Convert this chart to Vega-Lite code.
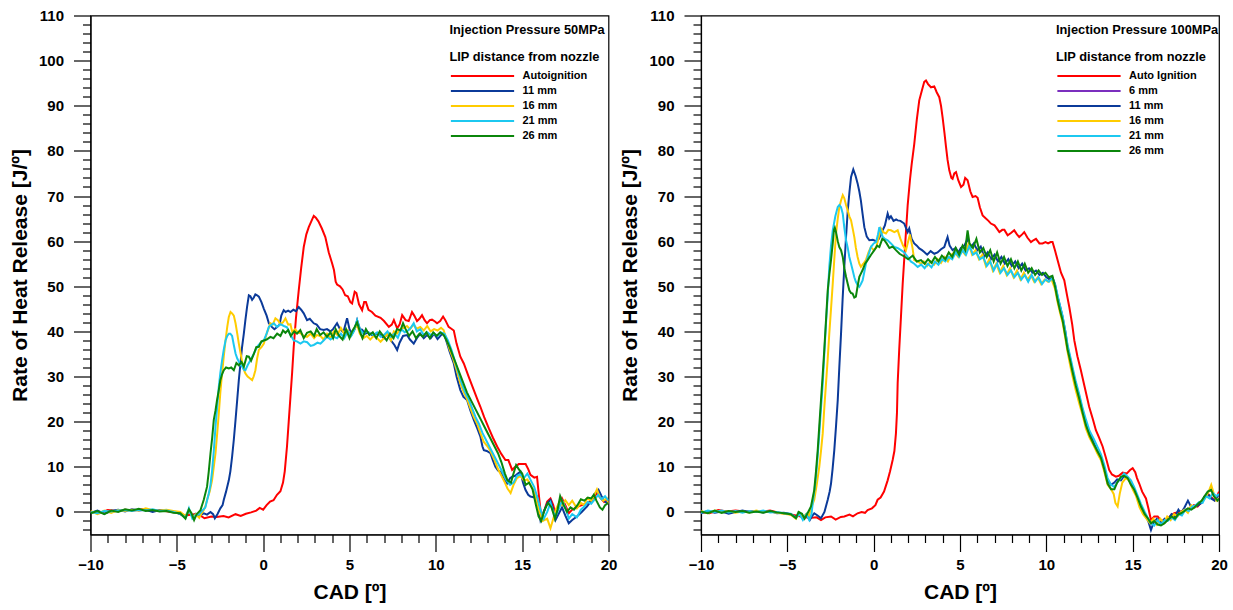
{
"$schema": "https://vega.github.io/schema/vega-lite/v6.json",
"background": "white",
"padding": {"left": 8.5, "top": 7.5, "right": 5, "bottom": 5},
"config": {
  "font": "Liberation Sans",
  "view": {"stroke": "#000", "strokeWidth": 1.2},
  "axis": {"grid": false, "domainColor": "#000", "tickColor": "#000", "labelColor": "#000", "titleColor": "#000", "labelFontWeight": "bold", "titleFontWeight": "bold", "labelFontSize": 15, "titleFontSize": 21, "tickWidth": 1.2, "domainWidth": 1.2, "labelOverlap": false, "labelFlush": false},
  "legend": {"titleColor": "#000", "labelColor": "#000", "titleFontWeight": "bold", "labelFontWeight": "bold", "titleFontSize": 12.8, "labelFontSize": 11, "titleLineHeight": 27, "titlePadding": 5.5, "symbolType": "stroke", "symbolSize": 4000, "symbolStrokeWidth": 2, "clipHeight": 14.2, "rowPadding": 0, "labelOffset": 7, "symbolOffset": 0, "titleLimit": 400, "labelLimit": 300}
},
"datasets": {
"d50": [
{"s":"Autoignition","x":-10,"y":0},{"s":"Autoignition","x":-9.5,"y":-0.3},{"s":"Autoignition","x":-9,"y":0.4},{"s":"Autoignition","x":-8.5,"y":0.2},{"s":"Autoignition","x":-8,"y":0.5},{"s":"Autoignition","x":-7.5,"y":0.3},{"s":"Autoignition","x":-7,"y":0.6},{"s":"Autoignition","x":-6.5,"y":0.2},{"s":"Autoignition","x":-6,"y":0.4},{"s":"Autoignition","x":-5.5,"y":0.1},{"s":"Autoignition","x":-5,"y":-0.2},{"s":"Autoignition","x":-4.5,"y":-0.8},{"s":"Autoignition","x":-4,"y":-0.5},{"s":"Autoignition","x":-3.6,"y":-0.9},{"s":"Autoignition","x":-3.4,"y":-1.4},{"s":"Autoignition","x":-3.0,"y":-1.0},{"s":"Autoignition","x":-2.7,"y":-1.1},{"s":"Autoignition","x":-2.3,"y":-0.9},{"s":"Autoignition","x":-2,"y":-1.2},{"s":"Autoignition","x":-1.6,"y":-0.5},{"s":"Autoignition","x":-1.3,"y":-0.9},{"s":"Autoignition","x":-1,"y":-0.4},{"s":"Autoignition","x":-0.7,"y":-0.1},{"s":"Autoignition","x":-0.4,"y":0.3},{"s":"Autoignition","x":-0.2,"y":0.9},{"s":"Autoignition","x":0,"y":0.5},{"s":"Autoignition","x":0.2,"y":1.5},{"s":"Autoignition","x":0.4,"y":2.3},{"s":"Autoignition","x":0.6,"y":2.6},{"s":"Autoignition","x":0.8,"y":3.8},{"s":"Autoignition","x":1.0,"y":4.6},{"s":"Autoignition","x":1.15,"y":6.5},{"s":"Autoignition","x":1.25,"y":9},{"s":"Autoignition","x":1.38,"y":14.5},{"s":"Autoignition","x":1.48,"y":20},{"s":"Autoignition","x":1.58,"y":25.5},{"s":"Autoignition","x":1.68,"y":31},{"s":"Autoignition","x":1.77,"y":36.6},{"s":"Autoignition","x":1.9,"y":43},{"s":"Autoignition","x":2.06,"y":49.1},{"s":"Autoignition","x":2.2,"y":54},{"s":"Autoignition","x":2.35,"y":58.7},{"s":"Autoignition","x":2.5,"y":61.5},{"s":"Autoignition","x":2.64,"y":63.1},{"s":"Autoignition","x":2.8,"y":64.5},{"s":"Autoignition","x":2.93,"y":65.6},{"s":"Autoignition","x":3.05,"y":65.2},{"s":"Autoignition","x":3.2,"y":64.4},{"s":"Autoignition","x":3.4,"y":62.8},{"s":"Autoignition","x":3.6,"y":60.9},{"s":"Autoignition","x":3.8,"y":57.5},{"s":"Autoignition","x":4.0,"y":55},{"s":"Autoignition","x":4.1,"y":53.6},{"s":"Autoignition","x":4.2,"y":51},{"s":"Autoignition","x":4.28,"y":50.4},{"s":"Autoignition","x":4.45,"y":50},{"s":"Autoignition","x":4.6,"y":49.3},{"s":"Autoignition","x":4.75,"y":48},{"s":"Autoignition","x":4.9,"y":47.8},{"s":"Autoignition","x":5.05,"y":46.5},{"s":"Autoignition","x":5.15,"y":46.2},{"s":"Autoignition","x":5.3,"y":48.8},{"s":"Autoignition","x":5.4,"y":48.5},{"s":"Autoignition","x":5.55,"y":46},{"s":"Autoignition","x":5.73,"y":44.7},{"s":"Autoignition","x":5.85,"y":46.5},{"s":"Autoignition","x":5.95,"y":46.5},{"s":"Autoignition","x":6.1,"y":44.8},{"s":"Autoignition","x":6.3,"y":44.3},{"s":"Autoignition","x":6.5,"y":43.5},{"s":"Autoignition","x":6.8,"y":43},{"s":"Autoignition","x":7.0,"y":42.3},{"s":"Autoignition","x":7.28,"y":41},{"s":"Autoignition","x":7.45,"y":41.5},{"s":"Autoignition","x":7.57,"y":42.5},{"s":"Autoignition","x":7.76,"y":40.7},{"s":"Autoignition","x":7.9,"y":41.5},{"s":"Autoignition","x":8.05,"y":43.6},{"s":"Autoignition","x":8.25,"y":42.5},{"s":"Autoignition","x":8.43,"y":42.3},{"s":"Autoignition","x":8.62,"y":44.3},{"s":"Autoignition","x":8.75,"y":43.5},{"s":"Autoignition","x":8.91,"y":42.3},{"s":"Autoignition","x":9.05,"y":42.8},{"s":"Autoignition","x":9.2,"y":43.6},{"s":"Autoignition","x":9.35,"y":42.5},{"s":"Autoignition","x":9.49,"y":41.8},{"s":"Autoignition","x":9.65,"y":42.5},{"s":"Autoignition","x":9.78,"y":42.6},{"s":"Autoignition","x":9.95,"y":42.2},{"s":"Autoignition","x":10.07,"y":41.8},{"s":"Autoignition","x":10.25,"y":42.3},{"s":"Autoignition","x":10.42,"y":43.3},{"s":"Autoignition","x":10.55,"y":42.5},{"s":"Autoignition","x":10.74,"y":41},{"s":"Autoignition","x":10.9,"y":40.6},{"s":"Autoignition","x":11.04,"y":40.2},{"s":"Autoignition","x":11.2,"y":37.3},{"s":"Autoignition","x":11.42,"y":34.4},{"s":"Autoignition","x":11.62,"y":32.9},{"s":"Autoignition","x":11.9,"y":30},{"s":"Autoignition","x":12.2,"y":27},{"s":"Autoignition","x":12.4,"y":25},{"s":"Autoignition","x":12.58,"y":23.3},{"s":"Autoignition","x":12.8,"y":21},{"s":"Autoignition","x":13.07,"y":18.5},{"s":"Autoignition","x":13.3,"y":16.5},{"s":"Autoignition","x":13.55,"y":14.5},{"s":"Autoignition","x":13.8,"y":12.8},{"s":"Autoignition","x":14.03,"y":11.5},{"s":"Autoignition","x":14.2,"y":11.5},{"s":"Autoignition","x":14.42,"y":9.3},{"s":"Autoignition","x":14.6,"y":10},{"s":"Autoignition","x":14.8,"y":10.6},{"s":"Autoignition","x":15.0,"y":10.6},{"s":"Autoignition","x":15.2,"y":10.6},{"s":"Autoignition","x":15.35,"y":9.5},{"s":"Autoignition","x":15.48,"y":8.2},{"s":"Autoignition","x":15.7,"y":7.6},{"s":"Autoignition","x":15.86,"y":7.8},{"s":"Autoignition","x":15.96,"y":4},{"s":"Autoignition","x":16.06,"y":0.4},{"s":"Autoignition","x":16.15,"y":-1},{"s":"Autoignition","x":16.3,"y":0.5},{"s":"Autoignition","x":16.45,"y":2.3},{"s":"Autoignition","x":16.64,"y":3},{"s":"Autoignition","x":16.8,"y":1.5},{"s":"Autoignition","x":16.93,"y":-0.5},{"s":"Autoignition","x":17.1,"y":1},{"s":"Autoignition","x":17.31,"y":3},{"s":"Autoignition","x":17.5,"y":1.5},{"s":"Autoignition","x":17.7,"y":-0.3},{"s":"Autoignition","x":17.9,"y":0.5},{"s":"Autoignition","x":18.17,"y":1.1},{"s":"Autoignition","x":18.45,"y":1.5},{"s":"Autoignition","x":18.75,"y":1.9},{"s":"Autoignition","x":19.0,"y":2.5},{"s":"Autoignition","x":19.2,"y":3.5},{"s":"Autoignition","x":19.33,"y":4.1},{"s":"Autoignition","x":19.55,"y":3},{"s":"Autoignition","x":19.75,"y":2.2},{"s":"Autoignition","x":19.9,"y":2.5},{"s":"Autoignition","x":20,"y":2},
{"s":"11 mm","x":-10,"y":-0.2},{"s":"11 mm","x":-9.6,"y":0.3},{"s":"11 mm","x":-9.2,"y":-0.4},{"s":"11 mm","x":-8.8,"y":0.2},{"s":"11 mm","x":-8.4,"y":0.5},{"s":"11 mm","x":-8,"y":0.1},{"s":"11 mm","x":-7.6,"y":0.6},{"s":"11 mm","x":-7.2,"y":0.3},{"s":"11 mm","x":-6.8,"y":0.5},{"s":"11 mm","x":-6.4,"y":0},{"s":"11 mm","x":-6,"y":0.4},{"s":"11 mm","x":-5.6,"y":0.2},{"s":"11 mm","x":-5.2,"y":0.1},{"s":"11 mm","x":-4.8,"y":-0.5},{"s":"11 mm","x":-4.5,"y":-1.2},{"s":"11 mm","x":-4.3,"y":0.3},{"s":"11 mm","x":-4.1,"y":-1.0},{"s":"11 mm","x":-3.9,"y":-0.4},{"s":"11 mm","x":-3.7,"y":-0.8},{"s":"11 mm","x":-3.44,"y":-0.3},{"s":"11 mm","x":-3.25,"y":-0.6},{"s":"11 mm","x":-3.05,"y":0},{"s":"11 mm","x":-2.9,"y":-0.5},{"s":"11 mm","x":-2.8,"y":-1.4},{"s":"11 mm","x":-2.65,"y":-0.5},{"s":"11 mm","x":-2.48,"y":0.8},{"s":"11 mm","x":-2.35,"y":1.5},{"s":"11 mm","x":-2.28,"y":2.7},{"s":"11 mm","x":-2.15,"y":4.5},{"s":"11 mm","x":-1.99,"y":7},{"s":"11 mm","x":-1.9,"y":9},{"s":"11 mm","x":-1.8,"y":12.2},{"s":"11 mm","x":-1.7,"y":16},{"s":"11 mm","x":-1.6,"y":20.4},{"s":"11 mm","x":-1.5,"y":25},{"s":"11 mm","x":-1.41,"y":29.2},{"s":"11 mm","x":-1.3,"y":33.5},{"s":"11 mm","x":-1.22,"y":36.6},{"s":"11 mm","x":-1.12,"y":39.5},{"s":"11 mm","x":-1.03,"y":42.5},{"s":"11 mm","x":-0.93,"y":45.5},{"s":"11 mm","x":-0.83,"y":48},{"s":"11 mm","x":-0.74,"y":47.8},{"s":"11 mm","x":-0.64,"y":47},{"s":"11 mm","x":-0.54,"y":47.5},{"s":"11 mm","x":-0.45,"y":48.2},{"s":"11 mm","x":-0.35,"y":48},{"s":"11 mm","x":-0.25,"y":47.7},{"s":"11 mm","x":-0.1,"y":46.5},{"s":"11 mm","x":0.04,"y":45},{"s":"11 mm","x":0.2,"y":43.5},{"s":"11 mm","x":0.33,"y":41.8},{"s":"11 mm","x":0.5,"y":41},{"s":"11 mm","x":0.65,"y":40.5},{"s":"11 mm","x":0.81,"y":41},{"s":"11 mm","x":0.95,"y":41.5},{"s":"11 mm","x":1.05,"y":43.5},{"s":"11 mm","x":1.19,"y":44.7},{"s":"11 mm","x":1.3,"y":44.3},{"s":"11 mm","x":1.45,"y":44.6},{"s":"11 mm","x":1.58,"y":44.3},{"s":"11 mm","x":1.75,"y":44.8},{"s":"11 mm","x":1.9,"y":44.5},{"s":"11 mm","x":2.06,"y":45.4},{"s":"11 mm","x":2.2,"y":44.8},{"s":"11 mm","x":2.35,"y":44},{"s":"11 mm","x":2.54,"y":42.5},{"s":"11 mm","x":2.7,"y":42.8},{"s":"11 mm","x":2.93,"y":41.8},{"s":"11 mm","x":3.1,"y":41.5},{"s":"11 mm","x":3.3,"y":40.5},{"s":"11 mm","x":3.51,"y":40.3},{"s":"11 mm","x":3.7,"y":40.5},{"s":"11 mm","x":3.89,"y":40},{"s":"11 mm","x":4.05,"y":40.5},{"s":"11 mm","x":4.28,"y":41.8},{"s":"11 mm","x":4.45,"y":40.5},{"s":"11 mm","x":4.6,"y":40},{"s":"11 mm","x":4.67,"y":40.2},{"s":"11 mm","x":4.86,"y":42.9},{"s":"11 mm","x":5.0,"y":40.5},{"s":"11 mm","x":5.15,"y":39.5},{"s":"11 mm","x":5.3,"y":40.5},{"s":"11 mm","x":5.44,"y":42.5},{"s":"11 mm","x":5.6,"y":40.5},{"s":"11 mm","x":5.73,"y":40.4},{"s":"11 mm","x":5.9,"y":39.5},{"s":"11 mm","x":6.1,"y":39.8},{"s":"11 mm","x":6.3,"y":39.2},{"s":"11 mm","x":6.55,"y":39.5},{"s":"11 mm","x":6.8,"y":39.2},{"s":"11 mm","x":7.0,"y":38.5},{"s":"11 mm","x":7.2,"y":39.5},{"s":"11 mm","x":7.4,"y":38},{"s":"11 mm","x":7.6,"y":37},{"s":"11 mm","x":7.76,"y":35.9},{"s":"11 mm","x":7.9,"y":37.5},{"s":"11 mm","x":8.1,"y":39},{"s":"11 mm","x":8.33,"y":39.2},{"s":"11 mm","x":8.5,"y":38.2},{"s":"11 mm","x":8.72,"y":37.3},{"s":"11 mm","x":8.9,"y":38.5},{"s":"11 mm","x":9.1,"y":39.5},{"s":"11 mm","x":9.3,"y":38.5},{"s":"11 mm","x":9.49,"y":39.2},{"s":"11 mm","x":9.7,"y":38.5},{"s":"11 mm","x":9.9,"y":39.5},{"s":"11 mm","x":10.1,"y":38.3},{"s":"11 mm","x":10.3,"y":39.2},{"s":"11 mm","x":10.46,"y":39.5},{"s":"11 mm","x":10.6,"y":38},{"s":"11 mm","x":10.8,"y":35.5},{"s":"11 mm","x":11.04,"y":32.9},{"s":"11 mm","x":11.2,"y":30},{"s":"11 mm","x":11.42,"y":27},{"s":"11 mm","x":11.6,"y":25.5},{"s":"11 mm","x":11.81,"y":24.8},{"s":"11 mm","x":12.0,"y":22.5},{"s":"11 mm","x":12.2,"y":20.4},{"s":"11 mm","x":12.4,"y":18.5},{"s":"11 mm","x":12.58,"y":16.7},{"s":"11 mm","x":12.7,"y":14.5},{"s":"11 mm","x":12.78,"y":13.7},{"s":"11 mm","x":12.95,"y":13.5},{"s":"11 mm","x":13.16,"y":13},{"s":"11 mm","x":13.3,"y":11.5},{"s":"11 mm","x":13.45,"y":10},{"s":"11 mm","x":13.6,"y":9.2},{"s":"11 mm","x":13.74,"y":8.9},{"s":"11 mm","x":13.95,"y":7.2},{"s":"11 mm","x":14.13,"y":6.3},{"s":"11 mm","x":14.3,"y":7.5},{"s":"11 mm","x":14.42,"y":7.8},{"s":"11 mm","x":14.6,"y":8},{"s":"11 mm","x":14.75,"y":8.5},{"s":"11 mm","x":14.9,"y":8.9},{"s":"11 mm","x":15.05,"y":6.5},{"s":"11 mm","x":15.19,"y":4.9},{"s":"11 mm","x":15.35,"y":3.8},{"s":"11 mm","x":15.48,"y":3.4},{"s":"11 mm","x":15.7,"y":3.2},{"s":"11 mm","x":15.86,"y":3.4},{"s":"11 mm","x":15.96,"y":1},{"s":"11 mm","x":16.06,"y":-1.8},{"s":"11 mm","x":16.25,"y":0},{"s":"11 mm","x":16.45,"y":1.9},{"s":"11 mm","x":16.64,"y":2.6},{"s":"11 mm","x":16.8,"y":0.5},{"s":"11 mm","x":16.93,"y":-1.8},{"s":"11 mm","x":17.1,"y":-0.5},{"s":"11 mm","x":17.31,"y":1},{"s":"11 mm","x":17.5,"y":-0.8},{"s":"11 mm","x":17.7,"y":-2.5},{"s":"11 mm","x":17.9,"y":-1.8},{"s":"11 mm","x":18.17,"y":-1},{"s":"11 mm","x":18.45,"y":0},{"s":"11 mm","x":18.75,"y":1.2},{"s":"11 mm","x":19.0,"y":2.5},{"s":"11 mm","x":19.2,"y":4},{"s":"11 mm","x":19.42,"y":4.9},{"s":"11 mm","x":19.6,"y":3.5},{"s":"11 mm","x":19.75,"y":2.5},{"s":"11 mm","x":19.9,"y":2},{"s":"11 mm","x":20,"y":2.3},
{"s":"16 mm","x":-10,"y":0.2},{"s":"16 mm","x":-9.6,"y":-0.5},{"s":"16 mm","x":-9.2,"y":0.3},{"s":"16 mm","x":-8.8,"y":-0.2},{"s":"16 mm","x":-8.4,"y":0.4},{"s":"16 mm","x":-8,"y":0.2},{"s":"16 mm","x":-7.6,"y":0.5},{"s":"16 mm","x":-7.2,"y":0.3},{"s":"16 mm","x":-6.8,"y":0.8},{"s":"16 mm","x":-6.4,"y":0.4},{"s":"16 mm","x":-6,"y":0.3},{"s":"16 mm","x":-5.6,"y":0.5},{"s":"16 mm","x":-5.2,"y":0.2},{"s":"16 mm","x":-4.8,"y":0},{"s":"16 mm","x":-4.5,"y":-0.9},{"s":"16 mm","x":-4.3,"y":0.5},{"s":"16 mm","x":-4.1,"y":-1.2},{"s":"16 mm","x":-3.9,"y":-0.5},{"s":"16 mm","x":-3.7,"y":-1.3},{"s":"16 mm","x":-3.55,"y":-0.2},{"s":"16 mm","x":-3.44,"y":0.4},{"s":"16 mm","x":-3.35,"y":1.2},{"s":"16 mm","x":-3.25,"y":2.7},{"s":"16 mm","x":-3.1,"y":4.5},{"s":"16 mm","x":-2.96,"y":7},{"s":"16 mm","x":-2.86,"y":10},{"s":"16 mm","x":-2.76,"y":13},{"s":"16 mm","x":-2.66,"y":17.5},{"s":"16 mm","x":-2.57,"y":21.8},{"s":"16 mm","x":-2.48,"y":26.5},{"s":"16 mm","x":-2.38,"y":30.7},{"s":"16 mm","x":-2.28,"y":34.5},{"s":"16 mm","x":-2.18,"y":38},{"s":"16 mm","x":-2.08,"y":41},{"s":"16 mm","x":-1.99,"y":43.2},{"s":"16 mm","x":-1.89,"y":44.3},{"s":"16 mm","x":-1.8,"y":44},{"s":"16 mm","x":-1.7,"y":43.5},{"s":"16 mm","x":-1.6,"y":41.8},{"s":"16 mm","x":-1.5,"y":39.5},{"s":"16 mm","x":-1.41,"y":37.3},{"s":"16 mm","x":-1.3,"y":35},{"s":"16 mm","x":-1.22,"y":33.3},{"s":"16 mm","x":-1.12,"y":31.5},{"s":"16 mm","x":-1.03,"y":30.7},{"s":"16 mm","x":-0.9,"y":30},{"s":"16 mm","x":-0.74,"y":29.5},{"s":"16 mm","x":-0.64,"y":29.2},{"s":"16 mm","x":-0.55,"y":30},{"s":"16 mm","x":-0.45,"y":31.4},{"s":"16 mm","x":-0.35,"y":34},{"s":"16 mm","x":-0.25,"y":35.9},{"s":"16 mm","x":-0.1,"y":36.5},{"s":"16 mm","x":0.04,"y":37.3},{"s":"16 mm","x":0.2,"y":39.5},{"s":"16 mm","x":0.42,"y":41.8},{"s":"16 mm","x":0.55,"y":41.5},{"s":"16 mm","x":0.71,"y":42.9},{"s":"16 mm","x":0.85,"y":42.5},{"s":"16 mm","x":1.0,"y":41.6},{"s":"16 mm","x":1.15,"y":42},{"s":"16 mm","x":1.29,"y":42.9},{"s":"16 mm","x":1.45,"y":41.5},{"s":"16 mm","x":1.58,"y":41.6},{"s":"16 mm","x":1.68,"y":39.9},{"s":"16 mm","x":1.85,"y":40.5},{"s":"16 mm","x":2.0,"y":39.8},{"s":"16 mm","x":2.2,"y":39.5},{"s":"16 mm","x":2.35,"y":39},{"s":"16 mm","x":2.54,"y":38.8},{"s":"16 mm","x":2.75,"y":39.5},{"s":"16 mm","x":2.95,"y":38.5},{"s":"16 mm","x":3.1,"y":39.2},{"s":"16 mm","x":3.31,"y":39},{"s":"16 mm","x":3.5,"y":38.2},{"s":"16 mm","x":3.7,"y":39.5},{"s":"16 mm","x":3.9,"y":38.5},{"s":"16 mm","x":4.09,"y":40},{"s":"16 mm","x":4.3,"y":39.2},{"s":"16 mm","x":4.5,"y":40.8},{"s":"16 mm","x":4.7,"y":39.5},{"s":"16 mm","x":4.9,"y":40.2},{"s":"16 mm","x":5.05,"y":39},{"s":"16 mm","x":5.25,"y":40.2},{"s":"16 mm","x":5.44,"y":41.5},{"s":"16 mm","x":5.6,"y":39.5},{"s":"16 mm","x":5.8,"y":38.5},{"s":"16 mm","x":6.0,"y":39},{"s":"16 mm","x":6.2,"y":38.2},{"s":"16 mm","x":6.4,"y":39},{"s":"16 mm","x":6.6,"y":38.5},{"s":"16 mm","x":6.8,"y":37.7},{"s":"16 mm","x":7.0,"y":38.5},{"s":"16 mm","x":7.2,"y":39.5},{"s":"16 mm","x":7.4,"y":38},{"s":"16 mm","x":7.57,"y":40},{"s":"16 mm","x":7.75,"y":39.5},{"s":"16 mm","x":7.95,"y":40.5},{"s":"16 mm","x":8.15,"y":40.8},{"s":"16 mm","x":8.33,"y":41.2},{"s":"16 mm","x":8.5,"y":40.5},{"s":"16 mm","x":8.7,"y":41.5},{"s":"16 mm","x":8.9,"y":40.6},{"s":"16 mm","x":9.1,"y":41},{"s":"16 mm","x":9.3,"y":40.2},{"s":"16 mm","x":9.5,"y":41.2},{"s":"16 mm","x":9.7,"y":40},{"s":"16 mm","x":9.9,"y":40.5},{"s":"16 mm","x":10.1,"y":40.2},{"s":"16 mm","x":10.3,"y":40.8},{"s":"16 mm","x":10.45,"y":40.3},{"s":"16 mm","x":10.6,"y":38.5},{"s":"16 mm","x":10.8,"y":36},{"s":"16 mm","x":11.0,"y":34},{"s":"16 mm","x":11.2,"y":31.5},{"s":"16 mm","x":11.42,"y":28.5},{"s":"16 mm","x":11.62,"y":26.5},{"s":"16 mm","x":11.81,"y":25},{"s":"16 mm","x":12.0,"y":23},{"s":"16 mm","x":12.2,"y":21},{"s":"16 mm","x":12.4,"y":19.5},{"s":"16 mm","x":12.58,"y":17.5},{"s":"16 mm","x":12.78,"y":15.5},{"s":"16 mm","x":13.0,"y":14.5},{"s":"16 mm","x":13.16,"y":13.5},{"s":"16 mm","x":13.4,"y":11.5},{"s":"16 mm","x":13.6,"y":9.5},{"s":"16 mm","x":13.8,"y":8},{"s":"16 mm","x":14.0,"y":6.5},{"s":"16 mm","x":14.15,"y":5.2},{"s":"16 mm","x":14.33,"y":4.2},{"s":"16 mm","x":14.5,"y":6},{"s":"16 mm","x":14.7,"y":7.5},{"s":"16 mm","x":14.9,"y":8},{"s":"16 mm","x":15.1,"y":7},{"s":"16 mm","x":15.3,"y":7.2},{"s":"16 mm","x":15.48,"y":6},{"s":"16 mm","x":15.7,"y":4.5},{"s":"16 mm","x":15.86,"y":2},{"s":"16 mm","x":16.0,"y":0},{"s":"16 mm","x":16.2,"y":-2},{"s":"16 mm","x":16.45,"y":-1.5},{"s":"16 mm","x":16.64,"y":-3.6},{"s":"16 mm","x":16.8,"y":-1.5},{"s":"16 mm","x":16.95,"y":0.5},{"s":"16 mm","x":17.15,"y":2.2},{"s":"16 mm","x":17.31,"y":1.5},{"s":"16 mm","x":17.5,"y":2.6},{"s":"16 mm","x":17.7,"y":1.5},{"s":"16 mm","x":17.9,"y":2.5},{"s":"16 mm","x":18.17,"y":0.8},{"s":"16 mm","x":18.4,"y":2},{"s":"16 mm","x":18.6,"y":1.5},{"s":"16 mm","x":18.75,"y":3},{"s":"16 mm","x":19.0,"y":2.5},{"s":"16 mm","x":19.15,"y":3.5},{"s":"16 mm","x":19.33,"y":5},{"s":"16 mm","x":19.5,"y":3.2},{"s":"16 mm","x":19.7,"y":2.5},{"s":"16 mm","x":19.9,"y":3},{"s":"16 mm","x":20,"y":1.8},
{"s":"21 mm","x":-10,"y":0},{"s":"21 mm","x":-9.6,"y":-0.3},{"s":"21 mm","x":-9.2,"y":0.2},{"s":"21 mm","x":-8.8,"y":0.1},{"s":"21 mm","x":-8.4,"y":0.3},{"s":"21 mm","x":-8,"y":0.4},{"s":"21 mm","x":-7.6,"y":0.2},{"s":"21 mm","x":-7.2,"y":0.5},{"s":"21 mm","x":-6.8,"y":0.3},{"s":"21 mm","x":-6.4,"y":0.6},{"s":"21 mm","x":-6,"y":0.2},{"s":"21 mm","x":-5.6,"y":0.3},{"s":"21 mm","x":-5.2,"y":0},{"s":"21 mm","x":-4.8,"y":-0.4},{"s":"21 mm","x":-4.5,"y":-1.3},{"s":"21 mm","x":-4.3,"y":0.8},{"s":"21 mm","x":-4.1,"y":-1.5},{"s":"21 mm","x":-3.9,"y":-0.7},{"s":"21 mm","x":-3.7,"y":-0.5},{"s":"21 mm","x":-3.55,"y":0.2},{"s":"21 mm","x":-3.35,"y":1},{"s":"21 mm","x":-3.15,"y":4.1},{"s":"21 mm","x":-3.05,"y":6},{"s":"21 mm","x":-2.96,"y":9},{"s":"21 mm","x":-2.86,"y":13.5},{"s":"21 mm","x":-2.76,"y":18.9},{"s":"21 mm","x":-2.66,"y":23.5},{"s":"21 mm","x":-2.57,"y":27.7},{"s":"21 mm","x":-2.48,"y":30.8},{"s":"21 mm","x":-2.38,"y":33.6},{"s":"21 mm","x":-2.28,"y":36},{"s":"21 mm","x":-2.18,"y":38},{"s":"21 mm","x":-2.08,"y":39},{"s":"21 mm","x":-1.99,"y":39.5},{"s":"21 mm","x":-1.9,"y":39.5},{"s":"21 mm","x":-1.8,"y":39},{"s":"21 mm","x":-1.7,"y":37},{"s":"21 mm","x":-1.6,"y":35.1},{"s":"21 mm","x":-1.5,"y":34},{"s":"21 mm","x":-1.41,"y":33.3},{"s":"21 mm","x":-1.3,"y":32.5},{"s":"21 mm","x":-1.22,"y":32.2},{"s":"21 mm","x":-1.12,"y":31.5},{"s":"21 mm","x":-1.03,"y":31.4},{"s":"21 mm","x":-0.9,"y":32.5},{"s":"21 mm","x":-0.74,"y":33.6},{"s":"21 mm","x":-0.55,"y":35},{"s":"21 mm","x":-0.35,"y":36.6},{"s":"21 mm","x":-0.15,"y":37.5},{"s":"21 mm","x":0.04,"y":38},{"s":"21 mm","x":0.2,"y":39.5},{"s":"21 mm","x":0.33,"y":41},{"s":"21 mm","x":0.5,"y":41.5},{"s":"21 mm","x":0.62,"y":41.8},{"s":"21 mm","x":0.8,"y":41},{"s":"21 mm","x":1.0,"y":41.6},{"s":"21 mm","x":1.2,"y":41.2},{"s":"21 mm","x":1.38,"y":40.9},{"s":"21 mm","x":1.55,"y":39.5},{"s":"21 mm","x":1.77,"y":38},{"s":"21 mm","x":1.95,"y":37.8},{"s":"21 mm","x":2.16,"y":37.3},{"s":"21 mm","x":2.35,"y":37.8},{"s":"21 mm","x":2.55,"y":37.6},{"s":"21 mm","x":2.75,"y":36.8},{"s":"21 mm","x":2.93,"y":37},{"s":"21 mm","x":3.15,"y":37.5},{"s":"21 mm","x":3.32,"y":37.3},{"s":"21 mm","x":3.5,"y":38},{"s":"21 mm","x":3.7,"y":38.8},{"s":"21 mm","x":3.9,"y":38.2},{"s":"21 mm","x":4.09,"y":38.8},{"s":"21 mm","x":4.28,"y":38.5},{"s":"21 mm","x":4.5,"y":39.5},{"s":"21 mm","x":4.7,"y":38.5},{"s":"21 mm","x":4.9,"y":40},{"s":"21 mm","x":5.1,"y":39},{"s":"21 mm","x":5.25,"y":40},{"s":"21 mm","x":5.44,"y":42.5},{"s":"21 mm","x":5.6,"y":40.5},{"s":"21 mm","x":5.8,"y":39.5},{"s":"21 mm","x":6.0,"y":40},{"s":"21 mm","x":6.2,"y":39.5},{"s":"21 mm","x":6.4,"y":39.2},{"s":"21 mm","x":6.6,"y":39.8},{"s":"21 mm","x":6.8,"y":38.8},{"s":"21 mm","x":7.0,"y":39.2},{"s":"21 mm","x":7.2,"y":40},{"s":"21 mm","x":7.4,"y":38.8},{"s":"21 mm","x":7.6,"y":39.5},{"s":"21 mm","x":7.8,"y":38.6},{"s":"21 mm","x":8.0,"y":40.5},{"s":"21 mm","x":8.2,"y":39.8},{"s":"21 mm","x":8.4,"y":40.2},{"s":"21 mm","x":8.55,"y":40.8},{"s":"21 mm","x":8.72,"y":41.8},{"s":"21 mm","x":8.9,"y":40},{"s":"21 mm","x":9.1,"y":40.5},{"s":"21 mm","x":9.3,"y":39.2},{"s":"21 mm","x":9.5,"y":39.8},{"s":"21 mm","x":9.7,"y":39.2},{"s":"21 mm","x":9.9,"y":39.5},{"s":"21 mm","x":10.1,"y":39},{"s":"21 mm","x":10.3,"y":39.8},{"s":"21 mm","x":10.5,"y":39.5},{"s":"21 mm","x":10.7,"y":38},{"s":"21 mm","x":10.9,"y":36},{"s":"21 mm","x":11.1,"y":33.5},{"s":"21 mm","x":11.3,"y":31},{"s":"21 mm","x":11.5,"y":28.5},{"s":"21 mm","x":11.7,"y":26.5},{"s":"21 mm","x":11.9,"y":25},{"s":"21 mm","x":12.1,"y":23},{"s":"21 mm","x":12.3,"y":21},{"s":"21 mm","x":12.5,"y":19.5},{"s":"21 mm","x":12.7,"y":17.5},{"s":"21 mm","x":12.9,"y":16},{"s":"21 mm","x":13.1,"y":14.5},{"s":"21 mm","x":13.3,"y":13},{"s":"21 mm","x":13.5,"y":11.5},{"s":"21 mm","x":13.7,"y":10},{"s":"21 mm","x":13.9,"y":8.5},{"s":"21 mm","x":14.1,"y":7},{"s":"21 mm","x":14.3,"y":6},{"s":"21 mm","x":14.5,"y":6.5},{"s":"21 mm","x":14.7,"y":8},{"s":"21 mm","x":14.9,"y":8.3},{"s":"21 mm","x":15.1,"y":7.5},{"s":"21 mm","x":15.3,"y":8.5},{"s":"21 mm","x":15.5,"y":7},{"s":"21 mm","x":15.7,"y":5.5},{"s":"21 mm","x":15.9,"y":3},{"s":"21 mm","x":16.06,"y":0.5},{"s":"21 mm","x":16.25,"y":-1.5},{"s":"21 mm","x":16.45,"y":0},{"s":"21 mm","x":16.64,"y":2},{"s":"21 mm","x":16.8,"y":0},{"s":"21 mm","x":16.93,"y":-1},{"s":"21 mm","x":17.1,"y":0.5},{"s":"21 mm","x":17.31,"y":2.5},{"s":"21 mm","x":17.5,"y":1},{"s":"21 mm","x":17.7,"y":-1.5},{"s":"21 mm","x":17.9,"y":-0.5},{"s":"21 mm","x":18.17,"y":-1.2},{"s":"21 mm","x":18.4,"y":0.5},{"s":"21 mm","x":18.6,"y":1.2},{"s":"21 mm","x":18.8,"y":2.2},{"s":"21 mm","x":19.0,"y":1.8},{"s":"21 mm","x":19.2,"y":2.8},{"s":"21 mm","x":19.4,"y":3.8},{"s":"21 mm","x":19.6,"y":2.8},{"s":"21 mm","x":19.8,"y":3.5},{"s":"21 mm","x":20,"y":2.5},
{"s":"26 mm","x":-10,"y":-0.3},{"s":"26 mm","x":-9.6,"y":0.2},{"s":"26 mm","x":-9.2,"y":-0.5},{"s":"26 mm","x":-8.8,"y":0.3},{"s":"26 mm","x":-8.4,"y":0},{"s":"26 mm","x":-8,"y":0.6},{"s":"26 mm","x":-7.6,"y":0.3},{"s":"26 mm","x":-7.2,"y":0.7},{"s":"26 mm","x":-6.8,"y":0.2},{"s":"26 mm","x":-6.4,"y":0.4},{"s":"26 mm","x":-6,"y":0.1},{"s":"26 mm","x":-5.6,"y":0.2},{"s":"26 mm","x":-5.2,"y":-0.2},{"s":"26 mm","x":-4.8,"y":-0.3},{"s":"26 mm","x":-4.5,"y":-1.5},{"s":"26 mm","x":-4.3,"y":0.6},{"s":"26 mm","x":-4.15,"y":-0.3},{"s":"26 mm","x":-4.0,"y":-1.8},{"s":"26 mm","x":-3.85,"y":-0.5},{"s":"26 mm","x":-3.63,"y":0.4},{"s":"26 mm","x":-3.44,"y":2.7},{"s":"26 mm","x":-3.25,"y":5.6},{"s":"26 mm","x":-3.15,"y":9},{"s":"26 mm","x":-3.05,"y":13},{"s":"26 mm","x":-2.95,"y":16.5},{"s":"26 mm","x":-2.86,"y":20.4},{"s":"26 mm","x":-2.76,"y":22.5},{"s":"26 mm","x":-2.67,"y":24.8},{"s":"26 mm","x":-2.57,"y":27},{"s":"26 mm","x":-2.48,"y":29.2},{"s":"26 mm","x":-2.38,"y":30.5},{"s":"26 mm","x":-2.28,"y":31.4},{"s":"26 mm","x":-2.15,"y":32},{"s":"26 mm","x":-1.99,"y":31.8},{"s":"26 mm","x":-1.85,"y":32},{"s":"26 mm","x":-1.7,"y":31.4},{"s":"26 mm","x":-1.55,"y":33},{"s":"26 mm","x":-1.41,"y":32.5},{"s":"26 mm","x":-1.25,"y":33.2},{"s":"26 mm","x":-1.12,"y":32.2},{"s":"26 mm","x":-0.95,"y":34.5},{"s":"26 mm","x":-0.83,"y":34.4},{"s":"26 mm","x":-0.7,"y":33.5},{"s":"26 mm","x":-0.54,"y":35},{"s":"26 mm","x":-0.4,"y":36.5},{"s":"26 mm","x":-0.25,"y":36.6},{"s":"26 mm","x":-0.1,"y":37.8},{"s":"26 mm","x":0.04,"y":38},{"s":"26 mm","x":0.2,"y":38.2},{"s":"26 mm","x":0.42,"y":38.8},{"s":"26 mm","x":0.6,"y":38.5},{"s":"26 mm","x":0.81,"y":39.5},{"s":"26 mm","x":1.0,"y":39},{"s":"26 mm","x":1.15,"y":40.2},{"s":"26 mm","x":1.29,"y":39.7},{"s":"26 mm","x":1.45,"y":40.3},{"s":"26 mm","x":1.6,"y":39},{"s":"26 mm","x":1.8,"y":40},{"s":"26 mm","x":1.96,"y":39.5},{"s":"26 mm","x":2.15,"y":40.3},{"s":"26 mm","x":2.35,"y":38.5},{"s":"26 mm","x":2.54,"y":39.7},{"s":"26 mm","x":2.75,"y":40},{"s":"26 mm","x":2.95,"y":39},{"s":"26 mm","x":3.1,"y":40.5},{"s":"26 mm","x":3.3,"y":39.2},{"s":"26 mm","x":3.5,"y":39.8},{"s":"26 mm","x":3.7,"y":38.8},{"s":"26 mm","x":3.9,"y":39.8},{"s":"26 mm","x":4.05,"y":38.5},{"s":"26 mm","x":4.2,"y":40.5},{"s":"26 mm","x":4.4,"y":39},{"s":"26 mm","x":4.6,"y":38.2},{"s":"26 mm","x":4.8,"y":40.5},{"s":"26 mm","x":5.0,"y":38.5},{"s":"26 mm","x":5.15,"y":40},{"s":"26 mm","x":5.3,"y":41},{"s":"26 mm","x":5.44,"y":42},{"s":"26 mm","x":5.6,"y":40},{"s":"26 mm","x":5.75,"y":38.5},{"s":"26 mm","x":5.95,"y":40.5},{"s":"26 mm","x":6.15,"y":39.2},{"s":"26 mm","x":6.35,"y":39.8},{"s":"26 mm","x":6.55,"y":38.5},{"s":"26 mm","x":6.75,"y":40},{"s":"26 mm","x":6.95,"y":39},{"s":"26 mm","x":7.15,"y":38},{"s":"26 mm","x":7.35,"y":39.5},{"s":"26 mm","x":7.55,"y":38.5},{"s":"26 mm","x":7.75,"y":40.5},{"s":"26 mm","x":7.95,"y":40.2},{"s":"26 mm","x":8.1,"y":41.8},{"s":"26 mm","x":8.25,"y":40.5},{"s":"26 mm","x":8.45,"y":39},{"s":"26 mm","x":8.65,"y":40},{"s":"26 mm","x":8.85,"y":38.5},{"s":"26 mm","x":9.05,"y":39.5},{"s":"26 mm","x":9.25,"y":38.8},{"s":"26 mm","x":9.45,"y":39.8},{"s":"26 mm","x":9.65,"y":38.5},{"s":"26 mm","x":9.85,"y":39.8},{"s":"26 mm","x":10.05,"y":39},{"s":"26 mm","x":10.25,"y":39.8},{"s":"26 mm","x":10.45,"y":39.2},{"s":"26 mm","x":10.6,"y":38.2},{"s":"26 mm","x":10.8,"y":36.5},{"s":"26 mm","x":11.0,"y":34.5},{"s":"26 mm","x":11.2,"y":32.5},{"s":"26 mm","x":11.4,"y":30.5},{"s":"26 mm","x":11.6,"y":28.5},{"s":"26 mm","x":11.8,"y":26.5},{"s":"26 mm","x":12.0,"y":25},{"s":"26 mm","x":12.2,"y":23.5},{"s":"26 mm","x":12.4,"y":22},{"s":"26 mm","x":12.6,"y":20.5},{"s":"26 mm","x":12.8,"y":19},{"s":"26 mm","x":13.0,"y":17.5},{"s":"26 mm","x":13.2,"y":16},{"s":"26 mm","x":13.4,"y":14.5},{"s":"26 mm","x":13.6,"y":13},{"s":"26 mm","x":13.8,"y":11},{"s":"26 mm","x":14.0,"y":8.5},{"s":"26 mm","x":14.15,"y":7},{"s":"26 mm","x":14.35,"y":6.5},{"s":"26 mm","x":14.5,"y":8.5},{"s":"26 mm","x":14.65,"y":10.4},{"s":"26 mm","x":14.8,"y":9.5},{"s":"26 mm","x":15.0,"y":8.5},{"s":"26 mm","x":15.2,"y":6},{"s":"26 mm","x":15.4,"y":6.5},{"s":"26 mm","x":15.6,"y":5},{"s":"26 mm","x":15.8,"y":1.5},{"s":"26 mm","x":15.95,"y":-1},{"s":"26 mm","x":16.1,"y":-2},{"s":"26 mm","x":16.3,"y":0.5},{"s":"26 mm","x":16.5,"y":2},{"s":"26 mm","x":16.7,"y":1},{"s":"26 mm","x":16.9,"y":-1.5},{"s":"26 mm","x":17.05,"y":0.5},{"s":"26 mm","x":17.2,"y":3.5},{"s":"26 mm","x":17.4,"y":1.5},{"s":"26 mm","x":17.6,"y":0},{"s":"26 mm","x":17.8,"y":1},{"s":"26 mm","x":18.0,"y":0.5},{"s":"26 mm","x":18.2,"y":1.5},{"s":"26 mm","x":18.4,"y":2.8},{"s":"26 mm","x":18.6,"y":2.5},{"s":"26 mm","x":18.8,"y":3.2},{"s":"26 mm","x":19.0,"y":3},{"s":"26 mm","x":19.15,"y":3.8},{"s":"26 mm","x":19.3,"y":2.5},{"s":"26 mm","x":19.5,"y":1},{"s":"26 mm","x":19.65,"y":0.5},{"s":"26 mm","x":19.8,"y":1.5},{"s":"26 mm","x":20,"y":2}
],
"d100": [
{"s":"Auto Ignition","x":-10,"y":0},{"s":"Auto Ignition","x":-9.5,"y":-0.3},{"s":"Auto Ignition","x":-9,"y":0.4},{"s":"Auto Ignition","x":-8.5,"y":0.1},{"s":"Auto Ignition","x":-8,"y":0.3},{"s":"Auto Ignition","x":-7.5,"y":0.1},{"s":"Auto Ignition","x":-7,"y":0.2},{"s":"Auto Ignition","x":-6.5,"y":0},{"s":"Auto Ignition","x":-6,"y":0.3},{"s":"Auto Ignition","x":-5.5,"y":-0.2},{"s":"Auto Ignition","x":-5,"y":-0.4},{"s":"Auto Ignition","x":-4.5,"y":-0.8},{"s":"Auto Ignition","x":-4,"y":-1.2},{"s":"Auto Ignition","x":-3.6,"y":-1.3},{"s":"Auto Ignition","x":-3.3,"y":-1.2},{"s":"Auto Ignition","x":-3.05,"y":-1.8},{"s":"Auto Ignition","x":-2.8,"y":-1.2},{"s":"Auto Ignition","x":-2.47,"y":-1},{"s":"Auto Ignition","x":-2.2,"y":-1.7},{"s":"Auto Ignition","x":-1.9,"y":-1.1},{"s":"Auto Ignition","x":-1.7,"y":-1},{"s":"Auto Ignition","x":-1.4,"y":-0.6},{"s":"Auto Ignition","x":-1.2,"y":-1},{"s":"Auto Ignition","x":-0.93,"y":-0.3},{"s":"Auto Ignition","x":-0.7,"y":0},{"s":"Auto Ignition","x":-0.5,"y":-0.2},{"s":"Auto Ignition","x":-0.35,"y":0.4},{"s":"Auto Ignition","x":-0.1,"y":0.8},{"s":"Auto Ignition","x":0.1,"y":1.5},{"s":"Auto Ignition","x":0.23,"y":2.7},{"s":"Auto Ignition","x":0.4,"y":3.2},{"s":"Auto Ignition","x":0.6,"y":4.5},{"s":"Auto Ignition","x":0.81,"y":7},{"s":"Auto Ignition","x":0.95,"y":9},{"s":"Auto Ignition","x":1.1,"y":11.5},{"s":"Auto Ignition","x":1.2,"y":13.5},{"s":"Auto Ignition","x":1.29,"y":17.4},{"s":"Auto Ignition","x":1.35,"y":22},{"s":"Auto Ignition","x":1.39,"y":28.5},{"s":"Auto Ignition","x":1.48,"y":36},{"s":"Auto Ignition","x":1.58,"y":43.2},{"s":"Auto Ignition","x":1.68,"y":50.5},{"s":"Auto Ignition","x":1.77,"y":56},{"s":"Auto Ignition","x":1.87,"y":62},{"s":"Auto Ignition","x":1.97,"y":68},{"s":"Auto Ignition","x":2.1,"y":73.5},{"s":"Auto Ignition","x":2.2,"y":77},{"s":"Auto Ignition","x":2.35,"y":81.5},{"s":"Auto Ignition","x":2.5,"y":87},{"s":"Auto Ignition","x":2.64,"y":91.2},{"s":"Auto Ignition","x":2.8,"y":93.5},{"s":"Auto Ignition","x":2.93,"y":95.3},{"s":"Auto Ignition","x":3.03,"y":95.6},{"s":"Auto Ignition","x":3.15,"y":94.8},{"s":"Auto Ignition","x":3.32,"y":94.1},{"s":"Auto Ignition","x":3.51,"y":94.3},{"s":"Auto Ignition","x":3.65,"y":93},{"s":"Auto Ignition","x":3.8,"y":91.9},{"s":"Auto Ignition","x":3.9,"y":90},{"s":"Auto Ignition","x":3.99,"y":87.5},{"s":"Auto Ignition","x":4.1,"y":84},{"s":"Auto Ignition","x":4.19,"y":80.9},{"s":"Auto Ignition","x":4.28,"y":78},{"s":"Auto Ignition","x":4.38,"y":75.7},{"s":"Auto Ignition","x":4.5,"y":74},{"s":"Auto Ignition","x":4.57,"y":73.8},{"s":"Auto Ignition","x":4.67,"y":75},{"s":"Auto Ignition","x":4.77,"y":75.3},{"s":"Auto Ignition","x":4.9,"y":73.5},{"s":"Auto Ignition","x":5.06,"y":72},{"s":"Auto Ignition","x":5.2,"y":72.5},{"s":"Auto Ignition","x":5.3,"y":74},{"s":"Auto Ignition","x":5.44,"y":73.5},{"s":"Auto Ignition","x":5.6,"y":71},{"s":"Auto Ignition","x":5.73,"y":69.8},{"s":"Auto Ignition","x":5.9,"y":70},{"s":"Auto Ignition","x":6.02,"y":69.6},{"s":"Auto Ignition","x":6.15,"y":67.5},{"s":"Auto Ignition","x":6.31,"y":65.7},{"s":"Auto Ignition","x":6.5,"y":65},{"s":"Auto Ignition","x":6.65,"y":64.5},{"s":"Auto Ignition","x":6.79,"y":63.9},{"s":"Auto Ignition","x":7.0,"y":63.5},{"s":"Auto Ignition","x":7.1,"y":63},{"s":"Auto Ignition","x":7.28,"y":62},{"s":"Auto Ignition","x":7.45,"y":62.5},{"s":"Auto Ignition","x":7.57,"y":62.5},{"s":"Auto Ignition","x":7.76,"y":61.3},{"s":"Auto Ignition","x":7.95,"y":61.8},{"s":"Auto Ignition","x":8.14,"y":62.4},{"s":"Auto Ignition","x":8.3,"y":61.5},{"s":"Auto Ignition","x":8.43,"y":60.9},{"s":"Auto Ignition","x":8.6,"y":61.5},{"s":"Auto Ignition","x":8.72,"y":62},{"s":"Auto Ignition","x":8.9,"y":60.8},{"s":"Auto Ignition","x":9.11,"y":59.8},{"s":"Auto Ignition","x":9.25,"y":60.2},{"s":"Auto Ignition","x":9.4,"y":60.5},{"s":"Auto Ignition","x":9.6,"y":59.5},{"s":"Auto Ignition","x":9.78,"y":59.5},{"s":"Auto Ignition","x":9.95,"y":59.8},{"s":"Auto Ignition","x":10.1,"y":59.5},{"s":"Auto Ignition","x":10.25,"y":59.8},{"s":"Auto Ignition","x":10.36,"y":59.8},{"s":"Auto Ignition","x":10.5,"y":58},{"s":"Auto Ignition","x":10.65,"y":55.8},{"s":"Auto Ignition","x":10.85,"y":53},{"s":"Auto Ignition","x":11.04,"y":51.3},{"s":"Auto Ignition","x":11.2,"y":48},{"s":"Auto Ignition","x":11.33,"y":45.4},{"s":"Auto Ignition","x":11.5,"y":41.5},{"s":"Auto Ignition","x":11.62,"y":38},{"s":"Auto Ignition","x":11.8,"y":34.5},{"s":"Auto Ignition","x":12.0,"y":31.4},{"s":"Auto Ignition","x":12.2,"y":28},{"s":"Auto Ignition","x":12.48,"y":23.3},{"s":"Auto Ignition","x":12.7,"y":20.5},{"s":"Auto Ignition","x":12.87,"y":18.1},{"s":"Auto Ignition","x":13.05,"y":16.5},{"s":"Auto Ignition","x":13.26,"y":14.5},{"s":"Auto Ignition","x":13.45,"y":12},{"s":"Auto Ignition","x":13.64,"y":9.3},{"s":"Auto Ignition","x":13.8,"y":8.3},{"s":"Auto Ignition","x":14.03,"y":7.8},{"s":"Auto Ignition","x":14.2,"y":8},{"s":"Auto Ignition","x":14.42,"y":8.7},{"s":"Auto Ignition","x":14.65,"y":8.5},{"s":"Auto Ignition","x":14.85,"y":9.3},{"s":"Auto Ignition","x":15.0,"y":9.7},{"s":"Auto Ignition","x":15.15,"y":8.8},{"s":"Auto Ignition","x":15.25,"y":7.5},{"s":"Auto Ignition","x":15.38,"y":6.3},{"s":"Auto Ignition","x":15.55,"y":4.5},{"s":"Auto Ignition","x":15.77,"y":3},{"s":"Auto Ignition","x":15.9,"y":1},{"s":"Auto Ignition","x":16.06,"y":-1.8},{"s":"Auto Ignition","x":16.25,"y":-1},{"s":"Auto Ignition","x":16.45,"y":-1},{"s":"Auto Ignition","x":16.65,"y":-2},{"s":"Auto Ignition","x":16.93,"y":-1.8},{"s":"Auto Ignition","x":17.15,"y":-1},{"s":"Auto Ignition","x":17.41,"y":-0.3},{"s":"Auto Ignition","x":17.7,"y":0},{"s":"Auto Ignition","x":17.99,"y":0.4},{"s":"Auto Ignition","x":18.3,"y":0.8},{"s":"Auto Ignition","x":18.55,"y":1.5},{"s":"Auto Ignition","x":18.76,"y":1.2},{"s":"Auto Ignition","x":19.0,"y":2.2},{"s":"Auto Ignition","x":19.2,"y":3.5},{"s":"Auto Ignition","x":19.34,"y":4.1},{"s":"Auto Ignition","x":19.5,"y":3.5},{"s":"Auto Ignition","x":19.73,"y":2.6},{"s":"Auto Ignition","x":19.9,"y":3.5},{"s":"Auto Ignition","x":20,"y":4.5},
{"s":"11 mm","x":-10,"y":-0.3},{"s":"11 mm","x":-9.6,"y":0.2},{"s":"11 mm","x":-9.2,"y":-0.2},{"s":"11 mm","x":-8.8,"y":0.1},{"s":"11 mm","x":-8.4,"y":-0.4},{"s":"11 mm","x":-8,"y":0},{"s":"11 mm","x":-7.6,"y":0.3},{"s":"11 mm","x":-7.2,"y":0},{"s":"11 mm","x":-6.8,"y":0.2},{"s":"11 mm","x":-6.4,"y":-0.1},{"s":"11 mm","x":-6,"y":0.2},{"s":"11 mm","x":-5.6,"y":-0.3},{"s":"11 mm","x":-5.2,"y":-0.2},{"s":"11 mm","x":-4.8,"y":-0.5},{"s":"11 mm","x":-4.5,"y":-1.2},{"s":"11 mm","x":-4.3,"y":-0.3},{"s":"11 mm","x":-4.1,"y":-1.5},{"s":"11 mm","x":-3.9,"y":-0.6},{"s":"11 mm","x":-3.7,"y":-1.8},{"s":"11 mm","x":-3.55,"y":-0.8},{"s":"11 mm","x":-3.44,"y":-0.3},{"s":"11 mm","x":-3.25,"y":-0.8},{"s":"11 mm","x":-3.05,"y":-1.4},{"s":"11 mm","x":-2.85,"y":0},{"s":"11 mm","x":-2.66,"y":2.7},{"s":"11 mm","x":-2.55,"y":4.5},{"s":"11 mm","x":-2.47,"y":6.3},{"s":"11 mm","x":-2.38,"y":9.5},{"s":"11 mm","x":-2.28,"y":13.7},{"s":"11 mm","x":-2.18,"y":19},{"s":"11 mm","x":-2.08,"y":24.8},{"s":"11 mm","x":-1.99,"y":32},{"s":"11 mm","x":-1.89,"y":39.5},{"s":"11 mm","x":-1.8,"y":47},{"s":"11 mm","x":-1.7,"y":54.3},{"s":"11 mm","x":-1.6,"y":61},{"s":"11 mm","x":-1.5,"y":66.8},{"s":"11 mm","x":-1.4,"y":71},{"s":"11 mm","x":-1.31,"y":74.2},{"s":"11 mm","x":-1.18,"y":75.9},{"s":"11 mm","x":-1.05,"y":74.5},{"s":"11 mm","x":-0.93,"y":72.8},{"s":"11 mm","x":-0.83,"y":71},{"s":"11 mm","x":-0.74,"y":69},{"s":"11 mm","x":-0.64,"y":66},{"s":"11 mm","x":-0.54,"y":63.1},{"s":"11 mm","x":-0.4,"y":61},{"s":"11 mm","x":-0.25,"y":60.2},{"s":"11 mm","x":-0.05,"y":60.3},{"s":"11 mm","x":0.14,"y":60},{"s":"11 mm","x":0.3,"y":60.5},{"s":"11 mm","x":0.52,"y":62.4},{"s":"11 mm","x":0.65,"y":63.5},{"s":"11 mm","x":0.81,"y":66.1},{"s":"11 mm","x":0.9,"y":65},{"s":"11 mm","x":1.0,"y":65.5},{"s":"11 mm","x":1.15,"y":64.5},{"s":"11 mm","x":1.3,"y":64.8},{"s":"11 mm","x":1.39,"y":64.6},{"s":"11 mm","x":1.55,"y":64.5},{"s":"11 mm","x":1.77,"y":63.9},{"s":"11 mm","x":1.97,"y":62},{"s":"11 mm","x":2.06,"y":62.8},{"s":"11 mm","x":2.2,"y":60.5},{"s":"11 mm","x":2.35,"y":59.5},{"s":"11 mm","x":2.5,"y":59},{"s":"11 mm","x":2.64,"y":58.4},{"s":"11 mm","x":2.8,"y":58},{"s":"11 mm","x":2.93,"y":57.6},{"s":"11 mm","x":3.1,"y":57},{"s":"11 mm","x":3.3,"y":57.8},{"s":"11 mm","x":3.51,"y":57.2},{"s":"11 mm","x":3.7,"y":57.5},{"s":"11 mm","x":3.9,"y":58.2},{"s":"11 mm","x":4.09,"y":58.7},{"s":"11 mm","x":4.2,"y":60},{"s":"11 mm","x":4.28,"y":60.9},{"s":"11 mm","x":4.4,"y":59},{"s":"11 mm","x":4.57,"y":58},{"s":"11 mm","x":4.75,"y":58.5},{"s":"11 mm","x":4.9,"y":57.5},{"s":"11 mm","x":5.05,"y":58.5},{"s":"11 mm","x":5.25,"y":59},{"s":"11 mm","x":5.44,"y":60.5},{"s":"11 mm","x":5.6,"y":58.5},{"s":"11 mm","x":5.8,"y":59.5},{"s":"11 mm","x":6.0,"y":58},{"s":"11 mm","x":6.2,"y":58.8},{"s":"11 mm","x":6.4,"y":56.5},{"s":"11 mm","x":6.6,"y":57.5},{"s":"11 mm","x":6.8,"y":56},{"s":"11 mm","x":7.0,"y":57},{"s":"11 mm","x":7.2,"y":55.5},{"s":"11 mm","x":7.4,"y":56.5},{"s":"11 mm","x":7.6,"y":55},{"s":"11 mm","x":7.8,"y":56},{"s":"11 mm","x":8.0,"y":54.5},{"s":"11 mm","x":8.2,"y":55.5},{"s":"11 mm","x":8.4,"y":54},{"s":"11 mm","x":8.6,"y":55},{"s":"11 mm","x":8.8,"y":53.5},{"s":"11 mm","x":9.0,"y":54},{"s":"11 mm","x":9.2,"y":53},{"s":"11 mm","x":9.4,"y":53.5},{"s":"11 mm","x":9.6,"y":52.5},{"s":"11 mm","x":9.8,"y":53},{"s":"11 mm","x":10.0,"y":52},{"s":"11 mm","x":10.2,"y":51.5},{"s":"11 mm","x":10.35,"y":52},{"s":"11 mm","x":10.5,"y":50.5},{"s":"11 mm","x":10.65,"y":47.7},{"s":"11 mm","x":10.8,"y":45.5},{"s":"11 mm","x":10.94,"y":43.2},{"s":"11 mm","x":11.1,"y":40},{"s":"11 mm","x":11.23,"y":36.6},{"s":"11 mm","x":11.38,"y":34},{"s":"11 mm","x":11.52,"y":31.4},{"s":"11 mm","x":11.7,"y":28.5},{"s":"11 mm","x":11.91,"y":25.5},{"s":"11 mm","x":12.1,"y":22.5},{"s":"11 mm","x":12.29,"y":19.6},{"s":"11 mm","x":12.5,"y":17.5},{"s":"11 mm","x":12.77,"y":15.2},{"s":"11 mm","x":12.95,"y":13.5},{"s":"11 mm","x":13.16,"y":12.2},{"s":"11 mm","x":13.35,"y":9.5},{"s":"11 mm","x":13.55,"y":7},{"s":"11 mm","x":13.75,"y":6},{"s":"11 mm","x":13.94,"y":6.5},{"s":"11 mm","x":14.1,"y":7.2},{"s":"11 mm","x":14.32,"y":7},{"s":"11 mm","x":14.5,"y":8},{"s":"11 mm","x":14.71,"y":7.5},{"s":"11 mm","x":14.9,"y":6.5},{"s":"11 mm","x":15.09,"y":5},{"s":"11 mm","x":15.3,"y":3},{"s":"11 mm","x":15.48,"y":1.2},{"s":"11 mm","x":15.7,"y":-0.5},{"s":"11 mm","x":15.9,"y":-2},{"s":"11 mm","x":16.06,"y":-4},{"s":"11 mm","x":16.2,"y":-2.5},{"s":"11 mm","x":16.4,"y":-1.5},{"s":"11 mm","x":16.64,"y":-2.5},{"s":"11 mm","x":16.85,"y":-1.5},{"s":"11 mm","x":17.03,"y":-1.8},{"s":"11 mm","x":17.25,"y":-0.5},{"s":"11 mm","x":17.45,"y":-1},{"s":"11 mm","x":17.65,"y":0.5},{"s":"11 mm","x":17.8,"y":-0.3},{"s":"11 mm","x":18.0,"y":1},{"s":"11 mm","x":18.2,"y":2.5},{"s":"11 mm","x":18.4,"y":1},{"s":"11 mm","x":18.57,"y":1},{"s":"11 mm","x":18.8,"y":1.5},{"s":"11 mm","x":19.0,"y":2},{"s":"11 mm","x":19.15,"y":3.4},{"s":"11 mm","x":19.35,"y":4},{"s":"11 mm","x":19.54,"y":3},{"s":"11 mm","x":19.75,"y":2.5},{"s":"11 mm","x":19.92,"y":3.5},{"s":"11 mm","x":20,"y":3.8},
{"s":"16 mm","x":-10,"y":0.2},{"s":"16 mm","x":-9.6,"y":-0.3},{"s":"16 mm","x":-9.2,"y":0.3},{"s":"16 mm","x":-8.8,"y":0},{"s":"16 mm","x":-8.4,"y":0.2},{"s":"16 mm","x":-8,"y":-0.2},{"s":"16 mm","x":-7.6,"y":0.1},{"s":"16 mm","x":-7.2,"y":-0.1},{"s":"16 mm","x":-6.8,"y":0.3},{"s":"16 mm","x":-6.4,"y":0},{"s":"16 mm","x":-6,"y":0.1},{"s":"16 mm","x":-5.6,"y":-0.2},{"s":"16 mm","x":-5.2,"y":-0.4},{"s":"16 mm","x":-4.8,"y":-0.6},{"s":"16 mm","x":-4.5,"y":-1.5},{"s":"16 mm","x":-4.3,"y":-0.2},{"s":"16 mm","x":-4.1,"y":-1.2},{"s":"16 mm","x":-3.9,"y":-0.4},{"s":"16 mm","x":-3.75,"y":-0.8},{"s":"16 mm","x":-3.63,"y":0.8},{"s":"16 mm","x":-3.44,"y":2.7},{"s":"16 mm","x":-3.3,"y":6},{"s":"16 mm","x":-3.15,"y":10},{"s":"16 mm","x":-3.05,"y":13.5},{"s":"16 mm","x":-2.95,"y":17.4},{"s":"16 mm","x":-2.86,"y":23},{"s":"16 mm","x":-2.76,"y":28.5},{"s":"16 mm","x":-2.66,"y":34},{"s":"16 mm","x":-2.57,"y":39.5},{"s":"16 mm","x":-2.47,"y":45},{"s":"16 mm","x":-2.37,"y":50.6},{"s":"16 mm","x":-2.28,"y":56},{"s":"16 mm","x":-2.18,"y":61.7},{"s":"16 mm","x":-2.08,"y":65},{"s":"16 mm","x":-1.99,"y":67.5},{"s":"16 mm","x":-1.89,"y":69},{"s":"16 mm","x":-1.79,"y":70.2},{"s":"16 mm","x":-1.7,"y":69.5},{"s":"16 mm","x":-1.6,"y":68},{"s":"16 mm","x":-1.5,"y":66.8},{"s":"16 mm","x":-1.41,"y":65.5},{"s":"16 mm","x":-1.31,"y":64.6},{"s":"16 mm","x":-1.2,"y":62.5},{"s":"16 mm","x":-1.12,"y":60.9},{"s":"16 mm","x":-1.03,"y":58.5},{"s":"16 mm","x":-0.93,"y":56.5},{"s":"16 mm","x":-0.83,"y":55},{"s":"16 mm","x":-0.74,"y":54.3},{"s":"16 mm","x":-0.6,"y":55},{"s":"16 mm","x":-0.45,"y":55.8},{"s":"16 mm","x":-0.3,"y":57.5},{"s":"16 mm","x":-0.16,"y":58.7},{"s":"16 mm","x":0.0,"y":58},{"s":"16 mm","x":0.14,"y":58.5},{"s":"16 mm","x":0.3,"y":61},{"s":"16 mm","x":0.42,"y":62.8},{"s":"16 mm","x":0.55,"y":62},{"s":"16 mm","x":0.71,"y":61.7},{"s":"16 mm","x":0.85,"y":62.5},{"s":"16 mm","x":1.0,"y":62.4},{"s":"16 mm","x":1.2,"y":62},{"s":"16 mm","x":1.39,"y":62.4},{"s":"16 mm","x":1.55,"y":60.5},{"s":"16 mm","x":1.7,"y":59},{"s":"16 mm","x":1.87,"y":58},{"s":"16 mm","x":2.0,"y":60},{"s":"16 mm","x":2.1,"y":61.5},{"s":"16 mm","x":2.25,"y":58.5},{"s":"16 mm","x":2.35,"y":55.8},{"s":"16 mm","x":2.55,"y":55.5},{"s":"16 mm","x":2.74,"y":55},{"s":"16 mm","x":2.9,"y":55.5},{"s":"16 mm","x":3.1,"y":54.5},{"s":"16 mm","x":3.3,"y":55.5},{"s":"16 mm","x":3.5,"y":54.8},{"s":"16 mm","x":3.7,"y":56},{"s":"16 mm","x":3.9,"y":55.2},{"s":"16 mm","x":4.1,"y":56.5},{"s":"16 mm","x":4.3,"y":55.5},{"s":"16 mm","x":4.5,"y":57},{"s":"16 mm","x":4.7,"y":57.5},{"s":"16 mm","x":4.9,"y":56.5},{"s":"16 mm","x":5.1,"y":58},{"s":"16 mm","x":5.3,"y":57},{"s":"16 mm","x":5.5,"y":59.5},{"s":"16 mm","x":5.7,"y":57},{"s":"16 mm","x":5.9,"y":58},{"s":"16 mm","x":6.1,"y":56},{"s":"16 mm","x":6.3,"y":57},{"s":"16 mm","x":6.5,"y":54.5},{"s":"16 mm","x":6.7,"y":56},{"s":"16 mm","x":6.9,"y":53.5},{"s":"16 mm","x":7.1,"y":55},{"s":"16 mm","x":7.3,"y":53},{"s":"16 mm","x":7.5,"y":54.5},{"s":"16 mm","x":7.7,"y":52.5},{"s":"16 mm","x":7.9,"y":54},{"s":"16 mm","x":8.1,"y":52},{"s":"16 mm","x":8.3,"y":53.5},{"s":"16 mm","x":8.5,"y":51.5},{"s":"16 mm","x":8.7,"y":53},{"s":"16 mm","x":8.9,"y":51.5},{"s":"16 mm","x":9.1,"y":52.5},{"s":"16 mm","x":9.3,"y":51},{"s":"16 mm","x":9.5,"y":52},{"s":"16 mm","x":9.7,"y":50.5},{"s":"16 mm","x":9.9,"y":51.5},{"s":"16 mm","x":10.1,"y":51},{"s":"16 mm","x":10.3,"y":51.5},{"s":"16 mm","x":10.5,"y":49.5},{"s":"16 mm","x":10.65,"y":46.5},{"s":"16 mm","x":10.8,"y":44},{"s":"16 mm","x":10.94,"y":42},{"s":"16 mm","x":11.1,"y":38.5},{"s":"16 mm","x":11.23,"y":35.5},{"s":"16 mm","x":11.38,"y":32.5},{"s":"16 mm","x":11.52,"y":30},{"s":"16 mm","x":11.7,"y":27},{"s":"16 mm","x":11.91,"y":24},{"s":"16 mm","x":12.1,"y":21.5},{"s":"16 mm","x":12.29,"y":18.5},{"s":"16 mm","x":12.5,"y":16.5},{"s":"16 mm","x":12.77,"y":14.5},{"s":"16 mm","x":12.95,"y":13},{"s":"16 mm","x":13.16,"y":11.5},{"s":"16 mm","x":13.35,"y":9},{"s":"16 mm","x":13.55,"y":6},{"s":"16 mm","x":13.75,"y":5},{"s":"16 mm","x":13.9,"y":4},{"s":"16 mm","x":14.0,"y":2},{"s":"16 mm","x":14.13,"y":1.2},{"s":"16 mm","x":14.25,"y":4},{"s":"16 mm","x":14.4,"y":6.5},{"s":"16 mm","x":14.6,"y":7.5},{"s":"16 mm","x":14.8,"y":7},{"s":"16 mm","x":15.0,"y":5},{"s":"16 mm","x":15.2,"y":3.5},{"s":"16 mm","x":15.4,"y":1},{"s":"16 mm","x":15.6,"y":-0.5},{"s":"16 mm","x":15.8,"y":-1.5},{"s":"16 mm","x":16.0,"y":-2.5},{"s":"16 mm","x":16.2,"y":-1.5},{"s":"16 mm","x":16.4,"y":-2.8},{"s":"16 mm","x":16.6,"y":-1.5},{"s":"16 mm","x":16.8,"y":-2.5},{"s":"16 mm","x":17.0,"y":-1},{"s":"16 mm","x":17.2,"y":-1.8},{"s":"16 mm","x":17.4,"y":-0.5},{"s":"16 mm","x":17.6,"y":-1},{"s":"16 mm","x":17.8,"y":0},{"s":"16 mm","x":18.0,"y":0.5},{"s":"16 mm","x":18.2,"y":-0.2},{"s":"16 mm","x":18.4,"y":1.5},{"s":"16 mm","x":18.6,"y":1},{"s":"16 mm","x":18.8,"y":2},{"s":"16 mm","x":19.0,"y":2.5},{"s":"16 mm","x":19.2,"y":3},{"s":"16 mm","x":19.4,"y":4.5},{"s":"16 mm","x":19.55,"y":6},{"s":"16 mm","x":19.7,"y":4},{"s":"16 mm","x":19.85,"y":2.5},{"s":"16 mm","x":20,"y":3},
{"s":"21 mm","x":-10,"y":-0.2},{"s":"21 mm","x":-9.6,"y":0.3},{"s":"21 mm","x":-9.2,"y":0},{"s":"21 mm","x":-8.8,"y":0.3},{"s":"21 mm","x":-8.4,"y":-0.1},{"s":"21 mm","x":-8,"y":0.2},{"s":"21 mm","x":-7.6,"y":-0.2},{"s":"21 mm","x":-7.2,"y":0.2},{"s":"21 mm","x":-6.8,"y":0},{"s":"21 mm","x":-6.4,"y":0.3},{"s":"21 mm","x":-6,"y":-0.1},{"s":"21 mm","x":-5.6,"y":0},{"s":"21 mm","x":-5.2,"y":-0.3},{"s":"21 mm","x":-4.8,"y":-0.4},{"s":"21 mm","x":-4.5,"y":-1.3},{"s":"21 mm","x":-4.3,"y":-0.4},{"s":"21 mm","x":-4.1,"y":-1.8},{"s":"21 mm","x":-3.9,"y":-0.5},{"s":"21 mm","x":-3.73,"y":-1.8},{"s":"21 mm","x":-3.6,"y":-0.5},{"s":"21 mm","x":-3.53,"y":2},{"s":"21 mm","x":-3.44,"y":4.5},{"s":"21 mm","x":-3.34,"y":7.8},{"s":"21 mm","x":-3.25,"y":12},{"s":"21 mm","x":-3.15,"y":17.4},{"s":"21 mm","x":-3.05,"y":23},{"s":"21 mm","x":-2.95,"y":28.5},{"s":"21 mm","x":-2.86,"y":35},{"s":"21 mm","x":-2.76,"y":41.8},{"s":"21 mm","x":-2.66,"y":48},{"s":"21 mm","x":-2.57,"y":54.3},{"s":"21 mm","x":-2.47,"y":59},{"s":"21 mm","x":-2.37,"y":62.4},{"s":"21 mm","x":-2.22,"y":65.5},{"s":"21 mm","x":-2.08,"y":67.6},{"s":"21 mm","x":-1.99,"y":68},{"s":"21 mm","x":-1.89,"y":67.5},{"s":"21 mm","x":-1.79,"y":66.1},{"s":"21 mm","x":-1.7,"y":63},{"s":"21 mm","x":-1.6,"y":60.2},{"s":"21 mm","x":-1.5,"y":58.5},{"s":"21 mm","x":-1.41,"y":56.5},{"s":"21 mm","x":-1.31,"y":55},{"s":"21 mm","x":-1.22,"y":53.6},{"s":"21 mm","x":-1.12,"y":52},{"s":"21 mm","x":-1.03,"y":51},{"s":"21 mm","x":-0.93,"y":50.3},{"s":"21 mm","x":-0.83,"y":49.9},{"s":"21 mm","x":-0.74,"y":50.5},{"s":"21 mm","x":-0.64,"y":51.3},{"s":"21 mm","x":-0.55,"y":53},{"s":"21 mm","x":-0.45,"y":55},{"s":"21 mm","x":-0.3,"y":57},{"s":"21 mm","x":-0.16,"y":58.7},{"s":"21 mm","x":0.0,"y":59.5},{"s":"21 mm","x":0.14,"y":59.8},{"s":"21 mm","x":0.25,"y":61.5},{"s":"21 mm","x":0.33,"y":63.1},{"s":"21 mm","x":0.42,"y":62},{"s":"21 mm","x":0.52,"y":61},{"s":"21 mm","x":0.65,"y":60.5},{"s":"21 mm","x":0.81,"y":60.2},{"s":"21 mm","x":1.0,"y":59.5},{"s":"21 mm","x":1.19,"y":58.7},{"s":"21 mm","x":1.38,"y":58.5},{"s":"21 mm","x":1.58,"y":58},{"s":"21 mm","x":1.77,"y":57.5},{"s":"21 mm","x":1.97,"y":56.5},{"s":"21 mm","x":2.15,"y":55.5},{"s":"21 mm","x":2.35,"y":55},{"s":"21 mm","x":2.55,"y":54.3},{"s":"21 mm","x":2.75,"y":54.8},{"s":"21 mm","x":2.95,"y":54},{"s":"21 mm","x":3.15,"y":55},{"s":"21 mm","x":3.35,"y":54.2},{"s":"21 mm","x":3.55,"y":55.5},{"s":"21 mm","x":3.75,"y":54.8},{"s":"21 mm","x":3.95,"y":56},{"s":"21 mm","x":4.15,"y":55.5},{"s":"21 mm","x":4.35,"y":56.5},{"s":"21 mm","x":4.55,"y":56},{"s":"21 mm","x":4.75,"y":57.5},{"s":"21 mm","x":4.95,"y":56.5},{"s":"21 mm","x":5.15,"y":58},{"s":"21 mm","x":5.35,"y":57},{"s":"21 mm","x":5.55,"y":59},{"s":"21 mm","x":5.75,"y":57},{"s":"21 mm","x":5.95,"y":57.5},{"s":"21 mm","x":6.15,"y":56},{"s":"21 mm","x":6.35,"y":56.5},{"s":"21 mm","x":6.55,"y":54.5},{"s":"21 mm","x":6.75,"y":55.5},{"s":"21 mm","x":6.95,"y":53.5},{"s":"21 mm","x":7.15,"y":55},{"s":"21 mm","x":7.35,"y":53},{"s":"21 mm","x":7.55,"y":54},{"s":"21 mm","x":7.75,"y":52.5},{"s":"21 mm","x":7.95,"y":53.5},{"s":"21 mm","x":8.15,"y":52},{"s":"21 mm","x":8.35,"y":53},{"s":"21 mm","x":8.55,"y":51.5},{"s":"21 mm","x":8.75,"y":52.5},{"s":"21 mm","x":8.95,"y":51},{"s":"21 mm","x":9.15,"y":52.5},{"s":"21 mm","x":9.35,"y":51},{"s":"21 mm","x":9.55,"y":52},{"s":"21 mm","x":9.75,"y":50.5},{"s":"21 mm","x":9.95,"y":51.5},{"s":"21 mm","x":10.15,"y":51},{"s":"21 mm","x":10.35,"y":51.8},{"s":"21 mm","x":10.5,"y":50.5},{"s":"21 mm","x":10.65,"y":48},{"s":"21 mm","x":10.8,"y":45.5},{"s":"21 mm","x":10.94,"y":43.5},{"s":"21 mm","x":11.1,"y":40},{"s":"21 mm","x":11.23,"y":37},{"s":"21 mm","x":11.38,"y":34.5},{"s":"21 mm","x":11.52,"y":32},{"s":"21 mm","x":11.7,"y":29},{"s":"21 mm","x":11.91,"y":26},{"s":"21 mm","x":12.1,"y":23},{"s":"21 mm","x":12.29,"y":20.5},{"s":"21 mm","x":12.5,"y":18},{"s":"21 mm","x":12.77,"y":16},{"s":"21 mm","x":12.95,"y":14.5},{"s":"21 mm","x":13.16,"y":12.8},{"s":"21 mm","x":13.35,"y":10.5},{"s":"21 mm","x":13.55,"y":7.5},{"s":"21 mm","x":13.75,"y":6},{"s":"21 mm","x":13.94,"y":5.5},{"s":"21 mm","x":14.1,"y":6.5},{"s":"21 mm","x":14.32,"y":7.5},{"s":"21 mm","x":14.5,"y":8.5},{"s":"21 mm","x":14.71,"y":7.8},{"s":"21 mm","x":14.9,"y":7},{"s":"21 mm","x":15.09,"y":5.5},{"s":"21 mm","x":15.3,"y":3.5},{"s":"21 mm","x":15.48,"y":1.8},{"s":"21 mm","x":15.7,"y":0},{"s":"21 mm","x":15.9,"y":-1.5},{"s":"21 mm","x":16.06,"y":-2.5},{"s":"21 mm","x":16.25,"y":-3},{"s":"21 mm","x":16.45,"y":-1.8},{"s":"21 mm","x":16.64,"y":-2.8},{"s":"21 mm","x":16.85,"y":-1.8},{"s":"21 mm","x":17.03,"y":-2},{"s":"21 mm","x":17.25,"y":-1.2},{"s":"21 mm","x":17.45,"y":-1.8},{"s":"21 mm","x":17.65,"y":-0.5},{"s":"21 mm","x":17.85,"y":-0.8},{"s":"21 mm","x":18.05,"y":0.5},{"s":"21 mm","x":18.25,"y":0.2},{"s":"21 mm","x":18.45,"y":1.2},{"s":"21 mm","x":18.65,"y":1.5},{"s":"21 mm","x":18.85,"y":2.2},{"s":"21 mm","x":19.05,"y":2},{"s":"21 mm","x":19.25,"y":3.5},{"s":"21 mm","x":19.45,"y":3},{"s":"21 mm","x":19.65,"y":4.2},{"s":"21 mm","x":19.85,"y":3.5},{"s":"21 mm","x":20,"y":4},
{"s":"26 mm","x":-10,"y":0.1},{"s":"26 mm","x":-9.6,"y":-0.3},{"s":"26 mm","x":-9.2,"y":0.3},{"s":"26 mm","x":-8.8,"y":-0.2},{"s":"26 mm","x":-8.4,"y":0.2},{"s":"26 mm","x":-8,"y":0},{"s":"26 mm","x":-7.6,"y":0.2},{"s":"26 mm","x":-7.2,"y":-0.2},{"s":"26 mm","x":-6.8,"y":0.1},{"s":"26 mm","x":-6.4,"y":-0.2},{"s":"26 mm","x":-6,"y":0.2},{"s":"26 mm","x":-5.6,"y":-0.1},{"s":"26 mm","x":-5.2,"y":-0.3},{"s":"26 mm","x":-4.8,"y":-0.5},{"s":"26 mm","x":-4.5,"y":-1.4},{"s":"26 mm","x":-4.35,"y":0},{"s":"26 mm","x":-4.15,"y":-0.4},{"s":"26 mm","x":-4.0,"y":-1.5},{"s":"26 mm","x":-3.83,"y":-0.3},{"s":"26 mm","x":-3.63,"y":1.2},{"s":"26 mm","x":-3.44,"y":4.9},{"s":"26 mm","x":-3.34,"y":9},{"s":"26 mm","x":-3.24,"y":13.7},{"s":"26 mm","x":-3.15,"y":19},{"s":"26 mm","x":-3.05,"y":24.8},{"s":"26 mm","x":-2.95,"y":30.5},{"s":"26 mm","x":-2.86,"y":35.9},{"s":"26 mm","x":-2.76,"y":42.5},{"s":"26 mm","x":-2.66,"y":49.1},{"s":"26 mm","x":-2.57,"y":52.5},{"s":"26 mm","x":-2.47,"y":55.8},{"s":"26 mm","x":-2.37,"y":59.5},{"s":"26 mm","x":-2.3,"y":62.5},{"s":"26 mm","x":-2.25,"y":63},{"s":"26 mm","x":-2.18,"y":62},{"s":"26 mm","x":-2.08,"y":60},{"s":"26 mm","x":-1.99,"y":58.7},{"s":"26 mm","x":-1.89,"y":58},{"s":"26 mm","x":-1.79,"y":56.5},{"s":"26 mm","x":-1.7,"y":54},{"s":"26 mm","x":-1.6,"y":52.1},{"s":"26 mm","x":-1.5,"y":50.5},{"s":"26 mm","x":-1.41,"y":49.1},{"s":"26 mm","x":-1.31,"y":48.5},{"s":"26 mm","x":-1.22,"y":48.4},{"s":"26 mm","x":-1.12,"y":47.5},{"s":"26 mm","x":-1.03,"y":47.7},{"s":"26 mm","x":-0.93,"y":50},{"s":"26 mm","x":-0.83,"y":52.1},{"s":"26 mm","x":-0.74,"y":52.8},{"s":"26 mm","x":-0.64,"y":53.6},{"s":"26 mm","x":-0.5,"y":55},{"s":"26 mm","x":-0.35,"y":55.8},{"s":"26 mm","x":-0.15,"y":57},{"s":"26 mm","x":0.04,"y":58},{"s":"26 mm","x":0.2,"y":59},{"s":"26 mm","x":0.33,"y":58.7},{"s":"26 mm","x":0.5,"y":60.5},{"s":"26 mm","x":0.62,"y":60.2},{"s":"26 mm","x":0.75,"y":59.5},{"s":"26 mm","x":0.91,"y":58.5},{"s":"26 mm","x":1.1,"y":58.8},{"s":"26 mm","x":1.29,"y":58},{"s":"26 mm","x":1.5,"y":57.2},{"s":"26 mm","x":1.77,"y":56.6},{"s":"26 mm","x":2.0,"y":56},{"s":"26 mm","x":2.26,"y":56.8},{"s":"26 mm","x":2.5,"y":55.5},{"s":"26 mm","x":2.74,"y":55.8},{"s":"26 mm","x":2.95,"y":55},{"s":"26 mm","x":3.15,"y":56},{"s":"26 mm","x":3.35,"y":55.2},{"s":"26 mm","x":3.55,"y":56.5},{"s":"26 mm","x":3.75,"y":55.5},{"s":"26 mm","x":3.95,"y":56.8},{"s":"26 mm","x":4.15,"y":56},{"s":"26 mm","x":4.35,"y":57.5},{"s":"26 mm","x":4.55,"y":56.5},{"s":"26 mm","x":4.75,"y":58.5},{"s":"26 mm","x":4.95,"y":57},{"s":"26 mm","x":5.15,"y":59},{"s":"26 mm","x":5.3,"y":58},{"s":"26 mm","x":5.44,"y":62.4},{"s":"26 mm","x":5.55,"y":59.5},{"s":"26 mm","x":5.75,"y":58.5},{"s":"26 mm","x":5.95,"y":60.5},{"s":"26 mm","x":6.15,"y":57.5},{"s":"26 mm","x":6.35,"y":58.5},{"s":"26 mm","x":6.55,"y":56.5},{"s":"26 mm","x":6.75,"y":58},{"s":"26 mm","x":6.95,"y":55.5},{"s":"26 mm","x":7.15,"y":57.5},{"s":"26 mm","x":7.35,"y":55},{"s":"26 mm","x":7.55,"y":56.5},{"s":"26 mm","x":7.75,"y":54.5},{"s":"26 mm","x":7.95,"y":56},{"s":"26 mm","x":8.15,"y":54},{"s":"26 mm","x":8.35,"y":55.5},{"s":"26 mm","x":8.55,"y":53.5},{"s":"26 mm","x":8.75,"y":55},{"s":"26 mm","x":8.95,"y":53},{"s":"26 mm","x":9.15,"y":54},{"s":"26 mm","x":9.35,"y":52.5},{"s":"26 mm","x":9.55,"y":53.5},{"s":"26 mm","x":9.75,"y":52.5},{"s":"26 mm","x":9.95,"y":53},{"s":"26 mm","x":10.15,"y":52},{"s":"26 mm","x":10.35,"y":52.3},{"s":"26 mm","x":10.5,"y":50},{"s":"26 mm","x":10.65,"y":47},{"s":"26 mm","x":10.8,"y":44.5},{"s":"26 mm","x":10.94,"y":42.5},{"s":"26 mm","x":11.1,"y":39},{"s":"26 mm","x":11.23,"y":36},{"s":"26 mm","x":11.38,"y":33.5},{"s":"26 mm","x":11.52,"y":31},{"s":"26 mm","x":11.7,"y":28},{"s":"26 mm","x":11.91,"y":25},{"s":"26 mm","x":12.1,"y":22},{"s":"26 mm","x":12.29,"y":19.2},{"s":"26 mm","x":12.5,"y":17},{"s":"26 mm","x":12.77,"y":14.8},{"s":"26 mm","x":12.95,"y":13.5},{"s":"26 mm","x":13.16,"y":12},{"s":"26 mm","x":13.35,"y":9.5},{"s":"26 mm","x":13.55,"y":6.3},{"s":"26 mm","x":13.75,"y":5},{"s":"26 mm","x":13.94,"y":5},{"s":"26 mm","x":14.1,"y":6.5},{"s":"26 mm","x":14.32,"y":7.8},{"s":"26 mm","x":14.5,"y":8},{"s":"26 mm","x":14.71,"y":7.5},{"s":"26 mm","x":14.9,"y":6},{"s":"26 mm","x":15.09,"y":4.9},{"s":"26 mm","x":15.3,"y":3},{"s":"26 mm","x":15.48,"y":1.2},{"s":"26 mm","x":15.7,"y":-0.5},{"s":"26 mm","x":15.9,"y":-1.5},{"s":"26 mm","x":16.06,"y":-2.5},{"s":"26 mm","x":16.25,"y":-2},{"s":"26 mm","x":16.45,"y":-2.8},{"s":"26 mm","x":16.64,"y":-3},{"s":"26 mm","x":16.85,"y":-2.5},{"s":"26 mm","x":17.03,"y":-1.8},{"s":"26 mm","x":17.25,"y":-1},{"s":"26 mm","x":17.45,"y":-1.5},{"s":"26 mm","x":17.65,"y":-0.5},{"s":"26 mm","x":17.8,"y":-0.3},{"s":"26 mm","x":18.0,"y":0.2},{"s":"26 mm","x":18.2,"y":0.8},{"s":"26 mm","x":18.4,"y":0.5},{"s":"26 mm","x":18.57,"y":1},{"s":"26 mm","x":18.8,"y":1.8},{"s":"26 mm","x":19.0,"y":2.5},{"s":"26 mm","x":19.15,"y":3.4},{"s":"26 mm","x":19.35,"y":4.5},{"s":"26 mm","x":19.54,"y":4.9},{"s":"26 mm","x":19.7,"y":3.5},{"s":"26 mm","x":19.92,"y":2.5},{"s":"26 mm","x":20,"y":3}
]
},
"bounds": "flush",
"spacing": 92.5,
"resolve": {"scale": {"color": "independent", "x": "independent", "y": "independent"}, "legend": {"color": "independent"}},
"hconcat": [
{
 "width": 518, "height": 519,
 "data": {"name": "d50"},
 "layer": [
  {"mark": {"type": "line", "strokeWidth": 2, "clip": true},
   "encoding": {
    "x": {"field": "x", "type": "quantitative", "scale": {"domain": [-10, 20], "nice": false, "zero": false},
      "axis": {"orient": "bottom", "values": [-10, -5, 0, 5, 10, 15, 20], "tickSize": 17, "labelPadding": 6, "title": "CAD [º]", "titlePadding": 9}},
    "y": {"field": "y", "type": "quantitative", "scale": {"domain": [-5, 110], "nice": false, "zero": false},
      "axis": {"orient": "left", "values": [0, 10, 20, 30, 40, 50, 60, 70, 80, 90, 100, 110], "tickSize": 17, "labelPadding": 10, "title": "Rate of Heat Release [J/º]", "titlePadding": 8}},
    "color": {"field": "s", "type": "nominal",
      "scale": {"domain": ["Autoignition", "11 mm", "16 mm", "21 mm", "26 mm"], "range": ["#FF0000", "#0B3A99", "#FFCC00", "#1CC8F0", "#0B860B"]},
      "legend": {"orient": "none", "legendX": 359, "legendY": 8, "title": ["Injection Pressure 50MPa", "LIP distance from nozzle"]}}
   }},
  {"mark": {"type": "point", "opacity": 0},
   "encoding": {
    "x": {"field": "x", "type": "quantitative", "scale": {"domain": [-10, 20], "nice": false, "zero": false},
      "axis": {"orient": "bottom", "values": [-9, -8, -7, -6, -4, -3, -2, -1, 1, 2, 3, 4, 6, 7, 8, 9, 11, 12, 13, 14, 16, 17, 18, 19], "tickSize": 8, "labels": false, "domain": false, "title": null}},
    "y": {"field": "y", "type": "quantitative", "scale": {"domain": [-5, 110], "nice": false, "zero": false},
      "axis": {"orient": "left", "values": [-4, -2, 2, 4, 6, 8, 12, 14, 16, 18, 22, 24, 26, 28, 32, 34, 36, 38, 42, 44, 46, 48, 52, 54, 56, 58, 62, 64, 66, 68, 72, 74, 76, 78, 82, 84, 86, 88, 92, 94, 96, 98, 102, 104, 106, 108], "tickSize": 8, "labels": false, "domain": false, "title": null}}
   }}
 ],
 "resolve": {"axis": {"x": "independent", "y": "independent"}}
},
{
 "width": 518, "height": 519,
 "data": {"name": "d100"},
 "layer": [
  {"mark": {"type": "line", "strokeWidth": 2, "clip": true},
   "encoding": {
    "x": {"field": "x", "type": "quantitative", "scale": {"domain": [-10, 20], "nice": false, "zero": false},
      "axis": {"orient": "bottom", "values": [-10, -5, 0, 5, 10, 15, 20], "tickSize": 17, "labelPadding": 6, "title": "CAD [º]", "titlePadding": 9}},
    "y": {"field": "y", "type": "quantitative", "scale": {"domain": [-5, 110], "nice": false, "zero": false},
      "axis": {"orient": "left", "values": [0, 10, 20, 30, 40, 50, 60, 70, 80, 90, 100, 110], "tickSize": 17, "labelPadding": 10, "title": "Rate of Heat Release [J/º]", "titlePadding": 8}},
    "color": {"field": "s", "type": "nominal",
      "scale": {"domain": ["Auto Ignition", "6 mm", "11 mm", "16 mm", "21 mm", "26 mm"], "range": ["#FF0000", "#7B2FBE", "#0B3A99", "#FFCC00", "#1CC8F0", "#0B860B"]},
      "legend": {"orient": "none", "legendX": 355, "legendY": 8, "title": ["Injection Pressure 100MPa", "LIP distance from nozzle"]}}
   }},
  {"mark": {"type": "point", "opacity": 0},
   "encoding": {
    "x": {"field": "x", "type": "quantitative", "scale": {"domain": [-10, 20], "nice": false, "zero": false},
      "axis": {"orient": "bottom", "values": [-9, -8, -7, -6, -4, -3, -2, -1, 1, 2, 3, 4, 6, 7, 8, 9, 11, 12, 13, 14, 16, 17, 18, 19], "tickSize": 8, "labels": false, "domain": false, "title": null}},
    "y": {"field": "y", "type": "quantitative", "scale": {"domain": [-5, 110], "nice": false, "zero": false},
      "axis": {"orient": "left", "values": [-4, -2, 2, 4, 6, 8, 12, 14, 16, 18, 22, 24, 26, 28, 32, 34, 36, 38, 42, 44, 46, 48, 52, 54, 56, 58, 62, 64, 66, 68, 72, 74, 76, 78, 82, 84, 86, 88, 92, 94, 96, 98, 102, 104, 106, 108], "tickSize": 8, "labels": false, "domain": false, "title": null}}
   }}
 ],
 "resolve": {"axis": {"x": "independent", "y": "independent"}}
}
]
}
